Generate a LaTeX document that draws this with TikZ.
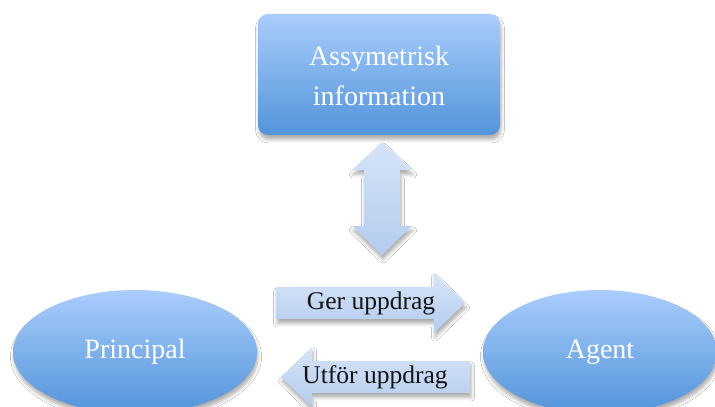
\documentclass[tikz,border=0pt]{standalone}
\usepackage{fontspec}
\setmainfont{Liberation Serif}
\usetikzlibrary{shadows.blur}

% palette
\definecolor{blueTop}{RGB}{170,205,252}
\definecolor{blueBot}{RGB}{82,148,218}
\definecolor{paleTop}{RGB}{214,228,248}
\definecolor{paleBot}{RGB}{180,204,238}
\definecolor{inkText}{RGB}{20,20,20}

\tikzset{
  softshadow/.style={blur shadow={shadow xshift=1pt, shadow yshift=-4.5pt,
      shadow blur radius=3.5pt, shadow opacity=32}},
  bluefill/.style={top color=blueTop, bottom color=blueBot, draw=none, softshadow},
  palefill/.style={top color=paleTop, bottom color=paleBot, draw=none, softshadow},
  whitelabel/.style={text=white, font=\fontsize{28}{40}\selectfont, align=center},
  darklabel/.style={text=inkText, font=\fontsize{25.5}{28}\selectfont},
}

\begin{document}
\begin{tikzpicture}[x=1pt, y=1pt]
  \clip (0,0) rectangle (715,407);
  \fill[white] (0,0) rectangle (715,407);

  % top box
  \path[bluefill, rounded corners=10pt] (258,272) rectangle (500,393);
  \node[whitelabel] (info) at (379,331) {Assymetrisk\\information};

  % double block arrow between the box and the lower row
  \path[palefill] (382,265) -- (412,237) -- (400,237) -- (400,181) -- (412,181)
      -- (382,152) -- (352,181) -- (364,181) -- (364,237) -- (352,237) -- cycle;

  % ellipses
  \path[bluefill] (135,55) ellipse [x radius=122, y radius=62];
  \node[whitelabel] (principal) at (135,55) {Principal};
  \path[bluefill] (600,55) ellipse [x radius=117, y radius=62];
  \node[whitelabel] (agent) at (600,55) {Agent};

  % right-pointing block arrow
  \path[palefill] (276,88) -- (434,88) -- (434,74) -- (465,104) -- (434,134)
      -- (434,120) -- (276,120) -- cycle;
  \node[darklabel] (ger) at (371,104) {Ger uppdrag};

  % left-pointing block arrow
  \path[palefill] (470,14) -- (312,14) -- (312,0) -- (281,30) -- (312,60)
      -- (312,46) -- (470,46) -- cycle;
  \node[darklabel] (utfor) at (375,30) {Utför uppdrag};
\end{tikzpicture}
\end{document}
